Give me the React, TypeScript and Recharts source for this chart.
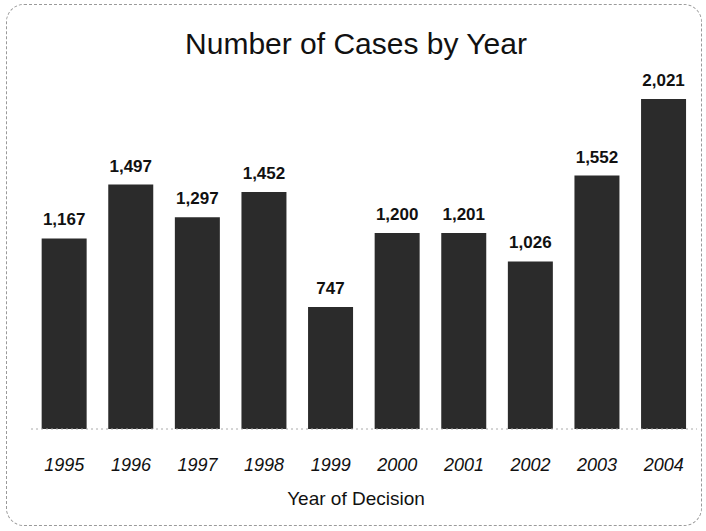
import { BarChart, Bar, XAxis, YAxis, LabelList } from 'recharts';

const years = ['1995', '1996', '1997', '1998', '1999', '2000', '2001', '2002', '2003', '2004'];
const cases = [1167, 1497, 1297, 1452, 747, 1200, 1201, 1026, 1552, 2021];

const data = years.map((year, i) => ({ year, cases: cases[i] }));

const font = '"Liberation Sans", Arial, sans-serif';

const YearTick = (props: any) => {
  const { x, y, payload } = props;
  return (
    <text
      x={x}
      y={y + 34}
      textAnchor="middle"
      fontFamily={font}
      fontStyle="italic"
      fontSize={18}
      fill="#111"
    >
      {payload.value}
    </text>
  );
};

export default function App() {
  return (
    <div style={{ position: 'absolute', left: 0, top: 0, width: 706, height: 531, background: '#fff' }}>
      {/* scanned frame */}
      <div
        style={{
          position: 'absolute',
          left: 6,
          top: 4,
          width: 694,
          height: 520,
          border: '1px dashed #9a9a9a',
          borderRadius: 18,
        }}
      />
      <div
        style={{
          position: 'absolute',
          left: 0,
          top: 27,
          width: 712,
          textAlign: 'center',
          fontFamily: font,
          fontSize: 30,
          color: '#111',
        }}
      >
        Number of Cases by Year
      </div>
      <div
        style={{
          position: 'absolute',
          left: 0,
          top: 488,
          width: 712,
          textAlign: 'center',
          fontFamily: font,
          fontSize: 19,
          color: '#111',
        }}
      >
        Year of Decision
      </div>
      <div style={{ position: 'absolute', left: 0, top: 0 }}>
        <BarChart
          width={706}
          height={531}
          data={data}
          margin={{ top: 99, right: 9, bottom: 0, left: 31 }}
          barCategoryGap="16%"
        >
          <XAxis
            dataKey="year"
            height={102}
            tickLine={false}
            axisLine={{ stroke: '#aaa', strokeDasharray: '2 3' }}
            tick={<YearTick />}
            interval={0}
          />
          <YAxis hide domain={[0, 2021]} />
          <Bar dataKey="cases" fill="#2b2b2b" isAnimationActive={false}>
            <LabelList
              dataKey="cases"
              position="top"
              offset={13}
              formatter={(v: any) => Number(v).toLocaleString('en-US')}
              style={{ fontFamily: font, fontSize: 17, fontWeight: 'bold', fill: '#111' }}
            />
          </Bar>
        </BarChart>
      </div>
    </div>
  );
}
